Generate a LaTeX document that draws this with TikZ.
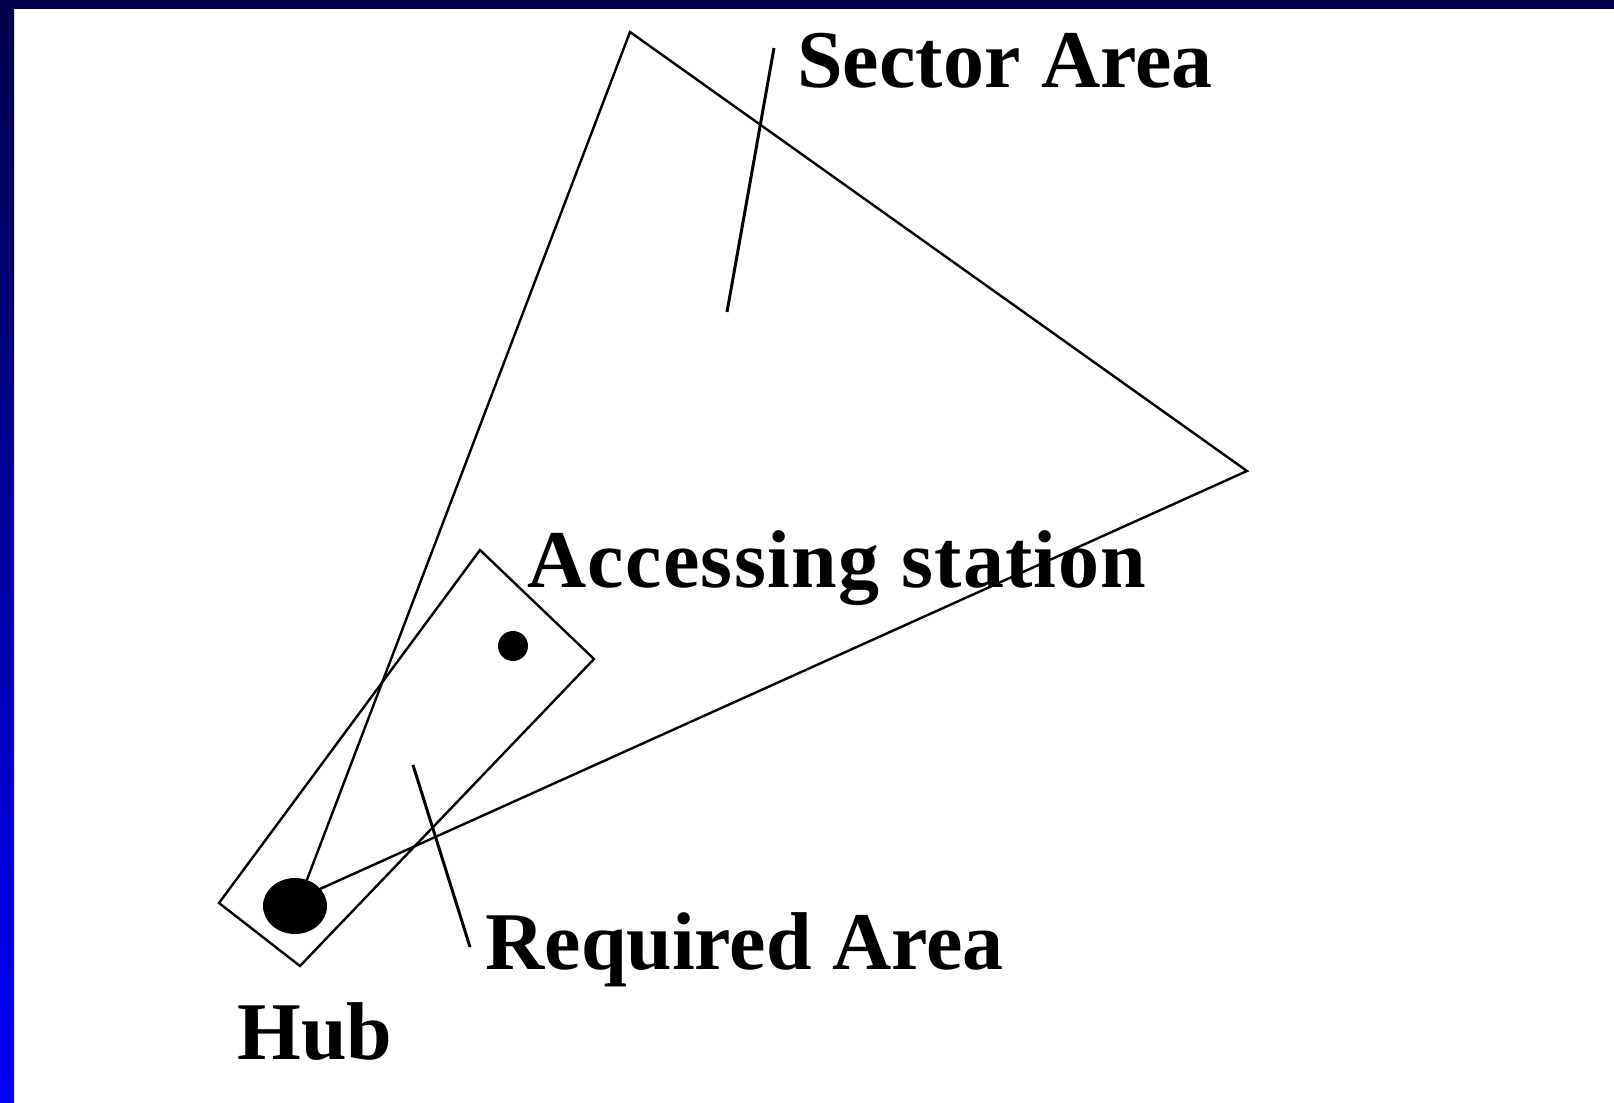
\documentclass[tikz,border=0pt]{standalone}
\usepackage{fontspec}
\setmainfont{Liberation Serif}
\newfontfamily\spacedfont[LetterSpace=1.6]{Liberation Serif}

\definecolor{topnavy}{RGB}{0,0,72}
\definecolor{sideblue}{RGB}{0,0,255}

\begin{document}
\begin{tikzpicture}[x=0.5pt, y=-0.5pt,
    edge/.style={line width=1.2pt, line join=miter},
    pointer/.style={line width=1.5pt},
    lbl/.style={anchor=base west, inner sep=0pt, font=\fontsize{41}{41}\selectfont\bfseries}]
    \useasboundingbox (0,0) rectangle (1614,1103);
    \fill[white] (0,0) rectangle (1614,1103);
    \shade[top color=topnavy, bottom color=sideblue] (0,0) rectangle (14,1103);
    \fill[topnavy] (0,0) rectangle (1614,9);

    % sector and required area
    \coordinate (origin) at (300,898);
    \coordinate (apex) at (630,32);
    \coordinate (rim) at (1247,471);
    \coordinate (qleft) at (219,903);
    \coordinate (qtop) at (480,550);
    \coordinate (qright) at (594,659);
    \coordinate (qbottom) at (300,966);

    \draw[edge] (origin) -- (apex) -- (rim) -- cycle;
    \draw[edge] (qleft) -- (qtop) -- (qright) -- (qbottom) -- cycle;

    \fill (295,906) ellipse [x radius=32, y radius=28];
    \fill (513,646) circle [radius=15];

    % pointers
    \coordinate (sa1) at (774,48);
    \coordinate (sa2) at (727,312);
    \coordinate (ra1) at (413,765);
    \coordinate (ra2) at (470,947);
    \draw[pointer] (sa1) -- (sa2);
    \draw[pointer] (ra1) -- (ra2);

    \node[lbl] (sector) at (797,87) {Sector Area};
    \node[lbl, font=\fontsize{41}{41}\spacedfont\bfseries] (station) at (527,587) {Accessing station};
    \node[lbl] (required) at (485,969) {Required Area};
    \node[lbl] (hub) at (237,1059) {Hub};

\end{tikzpicture}
\end{document}
